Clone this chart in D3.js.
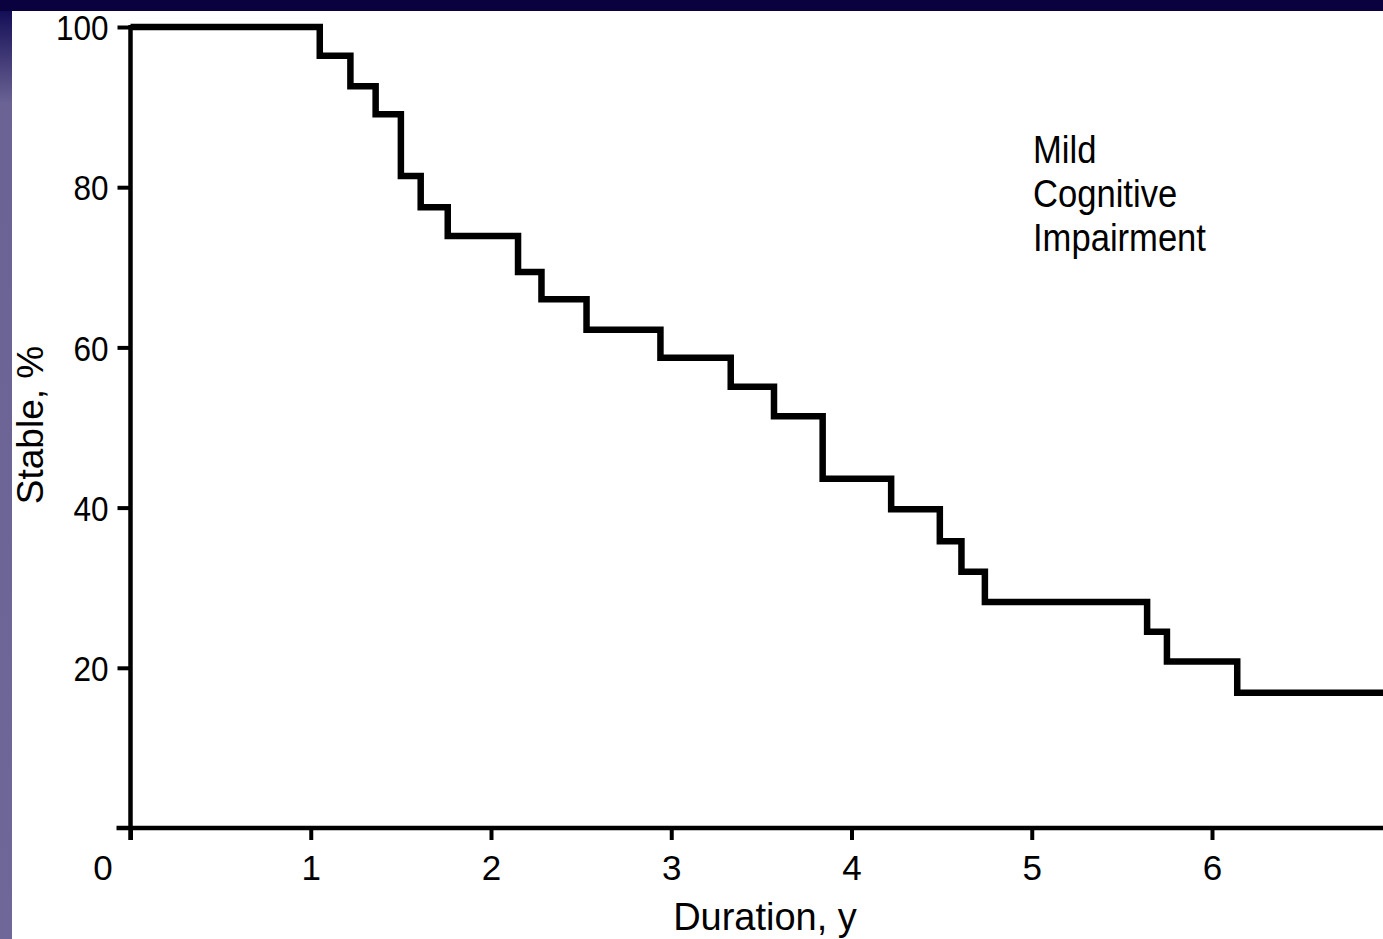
<!DOCTYPE html>
<html>
<head>
<meta charset="utf-8">
<script src="https://cdn.jsdelivr.net/npm/d3@7"></script>
<style>
  body { margin: 0; background: #fff; overflow: hidden; }
  text { font-family: "Liberation Sans", Arial, sans-serif; fill: #000; }
</style>
</head>
<body>
<div id="chart"></div>
<script>
// Kaplan-Meier style step curve
var years = [0, 1.05, 1.22, 1.36, 1.50, 1.61, 1.76, 2.15, 2.28, 2.53, 2.94, 3.33, 3.57, 3.84, 4.22, 4.49, 4.61, 4.74, 5.64, 5.75, 6.14, 7];
var stable = [100, 96.4, 92.6, 89.1, 81.4, 77.5, 73.9, 69.4, 66.0, 62.2, 58.7, 55.1, 51.4, 43.6, 39.8, 35.8, 32.0, 28.2, 24.5, 20.8, 16.9, 16.9];
var xTicks = [0, 1, 2, 3, 4, 5, 6];
var yTicks = [20, 40, 60, 80, 100];
var labelLines = ["Mild", "Cognitive", "Impairment"];

var svgWidth = 1383;
var svgHeight = 939;

var svg = d3.select("#chart").append("svg")
    .attr("width", svgWidth)
    .attr("height", svgHeight);

// slide frame: dark band on top, purple band on the left
var defs = svg.append("defs");
var grad = defs.append("linearGradient")
    .attr("id", "side")
    .attr("x1", 0).attr("y1", 0).attr("x2", 0).attr("y2", 1);
grad.append("stop").attr("offset", "0%").attr("stop-color", "#0a0450");
grad.append("stop").attr("offset", "11%").attr("stop-color", "#6a6394");
grad.append("stop").attr("offset", "100%").attr("stop-color", "#6e6797");

svg.append("rect").attr("x", 0).attr("y", 0).attr("width", 12).attr("height", svgHeight)
    .attr("fill", "url(#side)");
svg.append("rect").attr("x", 0).attr("y", 0).attr("width", svgWidth).attr("height", 11)
    .attr("fill", "#09023f");

var x = d3.scaleLinear().domain([0, 7]).range([130.5, 130.5 + 7 * 180.25]);
var y = d3.scaleLinear().domain([0, 100]).range([828, 27]);

var chart = svg.append("g");

function squeeze(sel, k) {
    sel.each(function() {
        this.setAttribute("textLength", this.getComputedTextLength() * k);
        this.setAttribute("lengthAdjust", "spacingAndGlyphs");
    });
}

// y axis
var leftAxis = d3.axisLeft(y)
    .tickValues(yTicks)
    .tickSize(13)
    .tickSizeOuter(0)
    .tickPadding(9);
var gy = chart.append("g")
    .attr("transform", "translate(" + x(0) + ",0)")
    .call(leftAxis);
gy.select(".domain").attr("stroke", "#000").attr("stroke-width", 4.5)
    .attr("d", "M0," + (y(0) + 12) + "V" + (y(100) - 2));
gy.selectAll(".tick line").attr("stroke", "#000").attr("stroke-width", 4);
gy.selectAll(".tick text")
    .style("font-size", "35px")
    .attr("dy", "0.36em")
    .call(squeeze, 0.9);

// x axis
var bottomAxis = d3.axisBottom(x)
    .tickValues(xTicks)
    .tickFormat(d3.format("d"))
    .tickSize(12)
    .tickSizeOuter(0)
    .tickPadding(12);
var gx = chart.append("g")
    .attr("transform", "translate(0," + y(0) + ")")
    .call(bottomAxis);
gx.select(".domain").attr("stroke", "#000").attr("stroke-width", 4.5)
    .attr("d", "M" + (x(0) - 14) + ",0H" + svgWidth);
gx.selectAll(".tick line").attr("stroke", "#000").attr("stroke-width", 4);
gx.selectAll(".tick text")
    .style("font-size", "35px")
    .attr("dy", "0.8em")
    .attr("dx", function(d) { return d === 0 ? -28 : 0; });

// step curve
var data = years.map(function(t, i) { return {t: t, v: stable[i]}; });
var line = d3.line()
    .x(function(d) { return x(d.t); })
    .y(function(d) { return y(d.v); })
    .curve(d3.curveStepAfter);
chart.append("path")
    .datum(data)
    .attr("d", line)
    .attr("fill", "none")
    .attr("stroke", "#000")
    .attr("stroke-width", 6.5)
    .attr("stroke-linejoin", "miter");

// axis titles
chart.append("text")
    .attr("transform", "translate(43," + 425 + ") rotate(-90)")
    .style("text-anchor", "middle")
    .style("font-size", "37px")
    .text("Stable, %");
chart.append("text")
    .attr("x", 765)
    .attr("y", 930)
    .style("text-anchor", "middle")
    .style("font-size", "38px")
    .text("Duration, y");

// in-plot label, squeezed a little to look like the narrow face
chart.append("text")
    .attr("x", 1033)
    .attr("y", 163)
    .style("font-size", "38px")
    .selectAll("tspan")
    .data(labelLines)
    .enter()
    .append("tspan")
    .attr("x", 1033)
    .attr("dy", function(d, i) { return i === 0 ? 0 : 44; })
    .text(function(d) { return d; })
    .call(squeeze, 0.91);
</script>
</body>
</html>
